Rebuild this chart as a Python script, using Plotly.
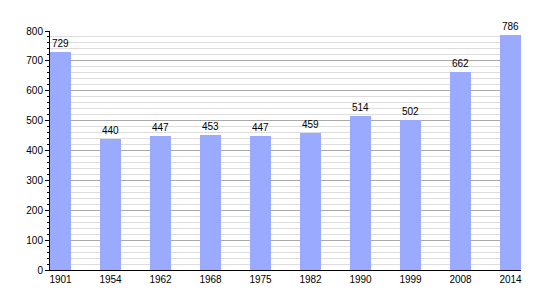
import plotly.graph_objects as go

years = ["1901", "1954", "1962", "1968", "1975", "1982", "1990", "1999", "2008", "2014"]
population = [729, 440, 447, 453, 447, 459, 514, 502, 662, 786]
y_ticks = [0, 100, 200, 300, 400, 500, 600, 700, 800]

fig = go.Figure()
fig.add_trace(go.Bar(
    x=years, y=population,
    marker=dict(color="#99aaff", line=dict(width=0)),
    width=0.42,
    text=[str(v) for v in population],
    textposition="outside",
    textfont=dict(size=10, color="#000000", family="Liberation Sans"),
    cliponaxis=False,
))

fig.update_layout(
    width=550, height=300,
    margin=dict(l=50, r=29, t=31, b=30),
    plot_bgcolor="#ffffff", paper_bgcolor="#ffffff",
    showlegend=False,
    font=dict(family="Liberation Sans", size=10, color="#000000"),
    bargap=0,
)
fig.update_xaxes(
    type="category", range=[-0.21, 9.21],
    showline=True, linecolor="#000000", linewidth=1,
    showgrid=False, ticks="", tickfont=dict(size=10),
)
fig.update_yaxes(
    range=[0, 800], tickvals=y_ticks,
    showline=True, linecolor="#000000", linewidth=1,
    showgrid=True, gridcolor="#aaaaaa", gridwidth=1,
    ticks="outside", ticklen=4, tickcolor="#000000",
    minor=dict(dtick=20, showgrid=True, gridcolor="#dddddd", gridwidth=1,
               ticks="outside", ticklen=2, tickcolor="#000000"),
    zeroline=False, tickfont=dict(size=10),
)

fig.write_html("out.html")
